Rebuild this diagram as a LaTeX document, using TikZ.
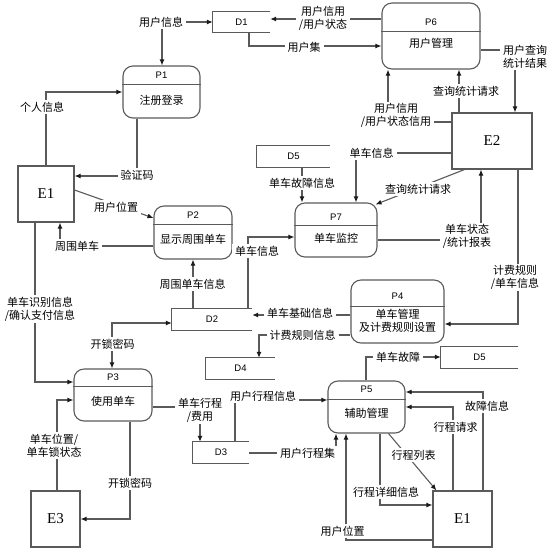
\documentclass[tikz,border=0pt]{standalone}
\usepackage{fontspec}
\usepackage{tikz}
\usetikzlibrary{arrows.meta,positioning}
\newfontfamily\cjk{Noto Sans CJK SC}
\newfontfamily\idfont{Liberation Sans}
\newfontfamily\entfont{Liberation Serif}
\definecolor{FlowGray}{HTML}{5A5A5A}
\definecolor{FlowInk}{HTML}{1A1A1A}

\begin{document}
\begin{tikzpicture}[x=1pt, y=-1pt,
  >={Latex[length=6pt,width=5pt,color=FlowInk]},
  proc/.style={draw=FlowGray, line width=1.1pt, rounded corners=10pt, inner sep=0pt},
  ptitle/.style={font=\idfont\fontsize{9.5}{11}\selectfont, inner sep=0pt},
  pbody/.style={font=\cjk\fontsize{11}{13}\selectfont, align=center, inner sep=0pt},
  store/.style={inner sep=0pt, font=\idfont\fontsize{9.5}{11}\selectfont},
  ext/.style={draw=FlowGray, line width=1.1pt, inner sep=0pt,
              font=\entfont\fontsize{15}{17}\selectfont},
  flow/.style={draw=FlowGray, line width=1.1pt, ->},
  flowboth/.style={draw=FlowGray, line width=1.1pt, <->},
  tag/.style={fill=white, inner xsep=3pt, inner ysep=1.5pt, align=center,
              font=\cjk\fontsize{11}{13}\selectfont}
]
\useasboundingbox (0,0) rectangle (551,550);

% processes
\node[proc, minimum width=77pt, minimum height=52pt] (p1) at (161.5,92) {};
\node[proc, minimum width=78pt, minimum height=53pt] (p2) at (193,232.5) {};
\node[proc, minimum width=78pt, minimum height=52pt] (p3) at (113,395) {};
\node[proc, minimum width=93pt, minimum height=63pt] (p4) at (397.5,311.5) {};
\node[proc, minimum width=77pt, minimum height=52pt] (p5) at (366.5,407) {};
\node[proc, minimum width=98pt, minimum height=66pt] (p6) at (431,36) {};
\node[proc, minimum width=82pt, minimum height=54pt] (p7) at (336,230) {};
\foreach \p/\d in {p1/19, p2/19, p3/18, p4/27, p5/19, p6/29, p7/23}
  \draw[FlowGray, line width=1.1pt] ([yshift=-\d pt]\p.north west) -- ([yshift=-\d pt]\p.north east);

\node[ptitle] (p1t) at (161.5,75) {P1};
\node[pbody]  (p1b) at (161.5,100) {注册登录};
\node[ptitle] (p2t) at (193,215) {P2};
\node[pbody]  (p2b) at (193,239) {显示周围单车};
\node[ptitle] (p3t) at (113,377) {P3};
\node[pbody]  (p3b) at (113,401) {使用单车};
\node[ptitle] (p4t) at (397.5,296) {P4};
\node[pbody]  (p4b) at (397.5,320.5) {单车管理\\及计费规则设置};
\node[ptitle] (p5t) at (366.5,389) {P5};
\node[pbody]  (p5b) at (366.5,413) {辅助管理};
\node[ptitle] (p6t) at (431,22.5) {P6};
\node[pbody]  (p6b) at (431,43.5) {用户管理};
\node[ptitle] (p7t) at (336,217) {P7};
\node[pbody]  (p7b) at (336,238) {单车监控};

% data stores
\node[store, minimum width=57pt, minimum height=20pt] (d1) at (241.5,22) {D1};
\node[store, minimum width=80pt, minimum height=21pt] (d2) at (212,319.5) {D2};
\node[store, minimum width=56pt, minimum height=21pt] (d3) at (221,452.5) {D3};
\node[store, minimum width=69pt, minimum height=21pt] (d4) at (240.5,368.5) {D4};
\node[store, minimum width=73pt, minimum height=21pt] (d5a) at (293.5,156.5) {D5};
\node[store, minimum width=77pt, minimum height=21pt] (d5b) at (479.5,357.5) {D5};
\foreach \d in {d1,d2,d3,d4,d5a,d5b}
  \draw[FlowGray, line width=1.1pt] (\d.north east) -| (\d.south west) -- (\d.south east);

% external entities
\node[ext, minimum width=56pt, minimum height=56pt] (e1a) at (46,194) {E1};
\node[ext, minimum width=80pt, minimum height=56pt] (e2) at (492,141) {E2};
\node[ext, minimum width=49pt, minimum height=56pt] (e3) at (55.5,519) {E3};
\node[ext, minimum width=59pt, minimum height=56pt] (e1b) at (462.5,519) {E1};

% flows
\coordinate (j1) at (162,22);
\draw[flow] (j1) -- (d1.west |- j1);
\draw[flow] (j1) -- (p1.north -| j1);
\draw[flow] (d1.south -| 249,0) |- (p6.west |- 0,46);
\draw[flow] (p6.west |- 0,19) -- (d1.east |- 0,19);
\draw[flow] (p1.south -| 137,0) |- (e1a.east |- 0,176);
\draw[flow] (e1a.north -| 46,0) |- (p1.west |- 0,92);
\draw[flow] (p6.east |- 0,50) -| (e2.north -| 515,0);
\draw[flow] (e2.north -| 459,0) -- (p6.south -| 459,0);
\draw[flow] (e2.west |- 0,122) -| (p6.south -| 388,0);
\draw[flow] (e2.west |- 0,153) -| (p7.north -| 356,0);
\draw[flow] (d5a.south -| 302,0) -- (p7.north -| 302,0);
\draw[flow] ([xshift=13pt]e2.south west) -- ([xshift=-2pt,yshift=-2pt]p7.north east);
\draw[flow] (p7.east |- 0,240) -| (e2.south -| 481,0);
\draw[flow] (e2.south -| 518,0) |- (p4.east |- 0,324);
\draw[flow] (p4.west |- 0,315) -- (d2.east |- 0,315);
\draw[flow] (p4.west |- 0,335) -| (d4.north -| 259,0);
\draw[flow] (d2.north -| 248,0) |- (p7.west |- 0,237);
\draw[flow] (d2.north -| 193,0) -- (p2.south -| 193,0);
\draw[flow] (e1a.east |- 0,190) -- (p2.west |- 0,218);
\draw[flow] (p2.west |- 0,246) -| (e1a.south -| 60,0);
\draw[flow] (e1a.south -| 35,0) |- (p3.west |- 0,382);
\draw[flowboth] (d2.west |- 0,323) -| (p3.north -| 112,0);
\draw[flow] (p3.east |- 0,407) -| (d3.north -| 200,0);
\draw[flow] (d3.north -| 235,0) |- (p5.west |- 0,400);
\draw[flow] (d3.east |- 0,453) -| (p5.south -| 336,0);
\draw[flow] (p5.north -| 366,0) |- (d5b.west |- 0,357);
\draw[flow] (e1b.north -| 483,0) |- (p5.east |- 0,392);
\draw[flow] (e1b.north -| 453,0) |- (p5.east |- 0,407);
\draw[flow] ([xshift=-17pt]p5.south east) -- ([xshift=4pt]e1b.north west);
\draw[flow] (p5.south -| 380,0) |- (e1b.west |- 0,505);
\draw[flow] (e1b.west |- 0,540) -| (p5.south -| 346,0);
\draw[flow] (e3.north -| 57,0) |- (p3.west |- 0,400);
\draw[flow] (p3.south -| 130,0) |- (e3.east |- 0,519);

% flow labels
\node[tag] (uinfo)   at (161,22) {用户信息};
\node[tag] (uset)    at (304,47) {用户集};
\node[tag] (ucredit) at (323,18.5) {用户信用\\/用户状态};
\node[tag] (vcode)   at (137,175) {验证码};
\node[tag] (pinfo)   at (42,107) {个人信息};
\node[tag] (qres)    at (525,56.5) {用户查询\\统计结果};
\node[tag] (qreq)    at (466,91) {查询统计请求};
\node[tag] (ucstate) at (396,115.5) {用户信用\\/用户状态信用};
\node[tag] (binfo)   at (371.5,153) {单车信息};
\node[tag] (bfault)  at (302,183) {单车故障信息};
\node[tag] (qreq2)   at (418,189) {查询统计请求};
\node[tag] (bstate)  at (467,236.5) {单车状态\\/统计报表};
\node[tag] (rule)    at (515,277.5) {计费规则\\/单车信息};
\node[tag] (bbase)   at (300,313) {单车基础信息};
\node[tag] (ruleinfo) at (302.5,335) {计费规则信息};
\node[tag] (binfo2)  at (257,251) {单车信息};
\node[tag] (nearinfo) at (192.5,284) {周围单车信息};
\node[tag] (upos)    at (116,207) {用户位置};
\node[tag] (near)    at (77,246) {周围单车};
\node[tag] (bident)  at (40,309) {单车识别信息\\/确认支付信息};
\node[tag] (ukey)    at (112.5,344) {开锁密码};
\node[tag] (trip)    at (200,410) {单车行程\\/费用};
\node[tag] (utrip)   at (263,396) {用户行程信息};
\node[tag] (utrips)  at (307.5,453) {用户行程集};
\node[tag] (bfail)   at (398,357) {单车故障};
\node[tag] (finfo)   at (487,406) {故障信息};
\node[tag] (treq)    at (455.5,427) {行程请求};
\node[tag] (tlist)   at (413.5,455) {行程列表};
\node[tag] (tdetail) at (386,492) {行程详细信息};
\node[tag] (upos2)   at (342.5,531) {用户位置};
\node[tag] (bpos)    at (54,445.5) {单车位置/\\单车锁状态};
\node[tag] (ukey2)   at (130,483) {开锁密码};
\end{tikzpicture}
\end{document}
